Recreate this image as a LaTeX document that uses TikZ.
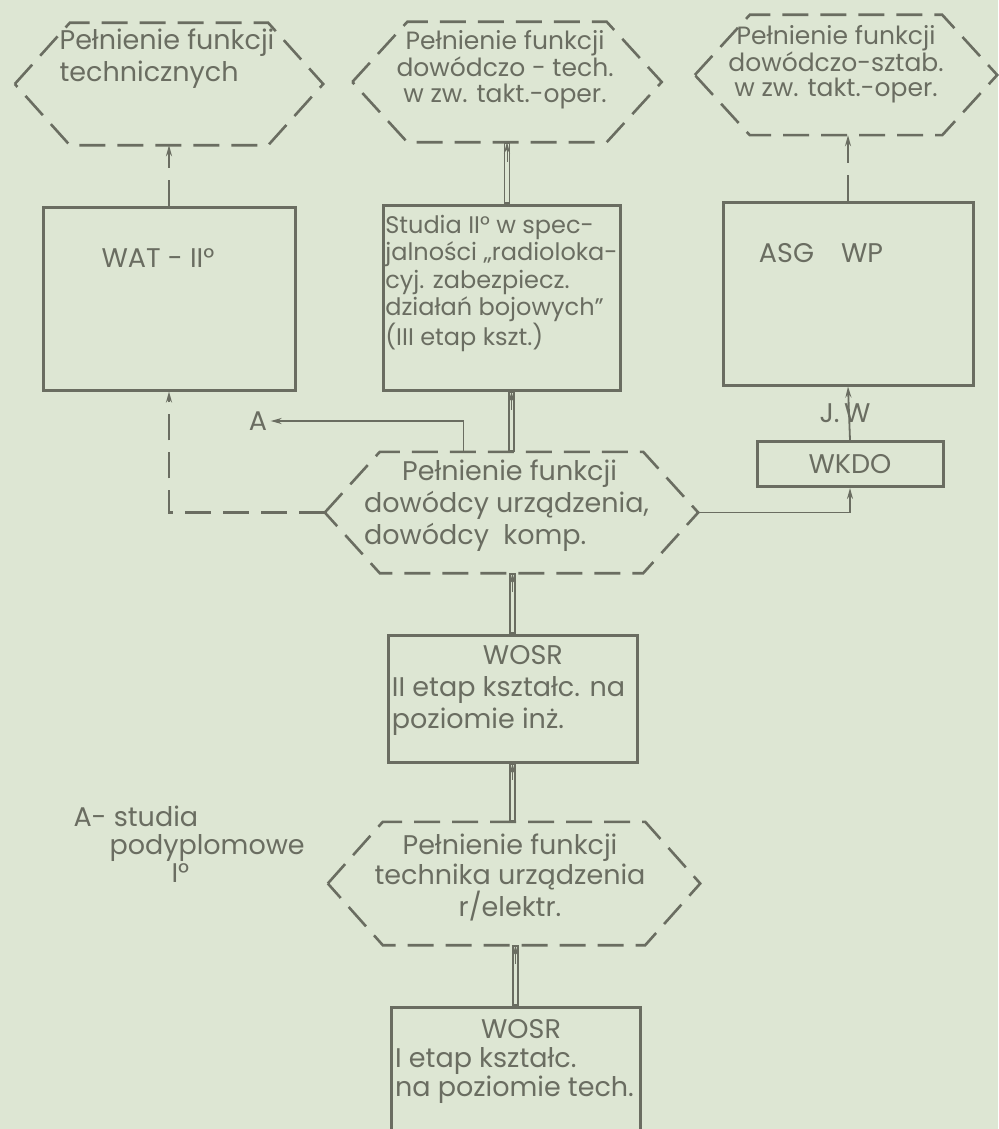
\documentclass[tikz,border=0pt]{standalone}
\usepackage{fontspec}
\setmainfont{Poppins}
\usetikzlibrary{arrows.meta}

\definecolor{paper}{RGB}{221,230,211}
\definecolor{ink}{RGB}{106,109,97}

\begin{document}
\begin{tikzpicture}[x=1pt,y=-1pt,
  font=\fontsize{27}{30}\selectfont,
  every node/.style={text=ink},
  box/.style={draw=ink, line width=3pt, inner sep=0pt},
  hexnode/.style={inner sep=0pt, minimum height=#1},
  hextext/.style={align=center},
  dashline/.style={draw=ink, line width=2.6pt, dash pattern=on 26pt off 12pt},
  thinline/.style={draw=ink, line width=1.8pt},
  tip/.style={-{Stealth[length=11pt,width=6pt]}},
  dblline/.style={draw=ink, line width=1pt, shorten <=42pt, tip,
    preaction={draw=ink, line width=6.8pt, shorten <=0pt, arrows=-},
    preaction={draw=paper, line width=3.8pt, shorten <=1.6pt, shorten >=1.6pt, arrows=-}}]

  % paper
  \fill[paper] (0,0) rectangle (998,1129);
  \useasboundingbox (0,0) rectangle (998,1129);

  % hexagons
  \node[hexnode=122pt, minimum width=308pt,
    label={[hextext, align=left, xshift=-2pt, yshift=25pt, font=\fontsize{27}{32}\selectfont]center:{Pełnienie funkcji\\technicznych}}] (h1) at (169,84) {};
  \node[hexnode=120pt, minimum width=309pt,
    label={[hextext, xshift=-2pt, yshift=12pt, font=\fontsize{25}{26}\selectfont]center:{Pełnienie funkcji\\dowódczo - tech.\\w zw. takt.-oper.}}] (h2) at (507,82) {};
  \node[hexnode=120pt, minimum width=302pt,
    label={[hextext, xshift=-10pt, yshift=11pt, font=\fontsize{25}{25}\selectfont]center:{Pełnienie funkcji\\dowódczo-sztab.\\w zw. takt.-oper.}}] (h3) at (846,75) {};
  \node[hexnode=121pt, minimum width=373pt,
    label={[hextext, align=left, xshift=-5pt, yshift=7pt, font=\fontsize{27}{32}\selectfont]center:{\hspace*{38pt}Pełnienie funkcji\\dowódcy urządzenia,\\dowódcy~~komp.}}] (h4) at (511.5,512.5) {};
  \node[hexnode=123pt, minimum width=372pt,
    label={[hextext, xshift=-4pt, yshift=6pt]center:{Pełnienie funkcji\\technika urządzenia\\r/elektr.}}] (h5) at (514,883.5) {};
  \foreach \n in {h1,h2,h3,h4,h5}
    \draw[dashline] (\n.west) -- ([xshift=55pt]\n.north west) -- ([xshift=-55pt]\n.north east)
      -- (\n.east) -- ([xshift=-55pt]\n.south east) -- ([xshift=55pt]\n.south west) -- cycle;

  % boxes
  \node[box, minimum width=252pt, minimum height=183pt,
    label={[xshift=-11pt, yshift=40pt]center:WAT - II°}] (wat) at (169,298.5) {};
  \node[box, minimum width=237pt, minimum height=185pt,
    label={[align=left, yshift=14pt, font=\fontsize{24}{27.5}\selectfont]center:{Studia II° w spec-\\jalności „radioloka-\\cyj. zabezpiecz.\\działań bojowych”\\(III etap kszt.)}}] (stud) at (501.5,297.5) {};
  \node[box, minimum width=250pt, minimum height=183pt,
    label={[xshift=-27pt, yshift=40pt]center:ASG\quad WP}] (asg) at (848,293.5) {};
  \node[box, minimum width=186pt, minimum height=45pt] (wkdo) at (850,464) {WKDO};
  \node[box, minimum width=249pt, minimum height=127pt,
    label={[align=left, xshift=-4pt, yshift=8pt, font=\fontsize{27}{32}\selectfont]center:{\hspace*{91pt}WOSR\\II etap kształc. na\\poziomie inż.}}] (wosr1) at (512.5,698.5) {};
  \node[box, minimum width=249pt, minimum height=153pt,
    label={[align=left, xshift=-1pt, yshift=22pt, font=\fontsize{27}{29}\selectfont]center:{\hspace*{86pt}WOSR\\I etap kształc.\\na poziomie tech.}}] (wosr2) at (515.5,1083.5) {};

  % side texts
  \node (a) at (258,421) {A};
  \node[align=left, anchor=north west, font=\fontsize{27}{28}\selectfont] (note) at (70,802)
    {A- studia\\\hspace*{36pt}podyplomowe\\\hspace*{98pt}I°};

  % connectors
  \draw[dashline, tip] (wat.north) -- (wat.north |- h1.south);
  \draw[dblline] (h2.south |- stud.north) -- (h2.south);
  \draw[dashline, tip] (asg.north) -- (asg.north |- h3.south);
  \draw[dblline] (h4.north) -- (h4.north |- stud.south);
  \draw[dblline] (wosr1.north) -- (wosr1.north |- h4.south);
  \draw[dblline] (wosr1.south |- h5.north) -- (wosr1.south);
  \draw[dblline] (wosr2.north) -- (wosr2.north |- h5.south);
  \draw[dashline, tip] (h4.west) -| (wat.south);
  \draw[thinline, tip] (h4.east) -| (wkdo.south);
  \draw[thinline, tip] (wkdo.north) -- (asg.south) node[midway, xshift=-4pt] (jw) {J.\,W};
  \draw[thinline, tip] ([xshift=-48pt]h4.north) |- (a);
\end{tikzpicture}
\end{document}
